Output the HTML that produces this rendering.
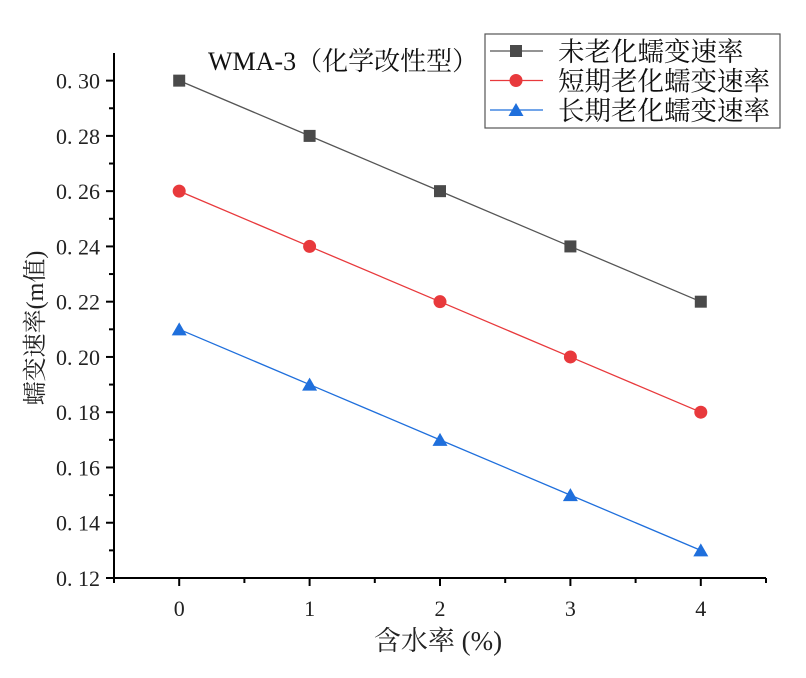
<!DOCTYPE html>
<html><head><meta charset="utf-8"><style>
body{margin:0;background:#fff}
svg text{font-family:"Liberation Serif","Noto Serif CJK SC",serif}
</style></head><body>
<svg id="c" width="806" height="673" xmlns="http://www.w3.org/2000/svg"></svg>
<script>
const categories=[0,1,2,3,4];
const seriesNames=["未老化蠕变速率","短期老化蠕变速率","长期老化蠕变速率"];
const unaged=[0.30,0.28,0.26,0.24,0.22];
const shortAged=[0.26,0.24,0.22,0.20,0.18];
const longAged=[0.21,0.19,0.17,0.15,0.13];
const yTicks=[0.12,0.14,0.16,0.18,0.20,0.22,0.24,0.26,0.28,0.30];
const yTickLabels=["0. 12","0. 14","0. 16","0. 18","0. 20","0. 22","0. 24","0. 26","0. 28","0. 30"];
const xTickLabels=["0","1","2","3","4"];

const NS="http://www.w3.org/2000/svg";
const svg=document.getElementById('c');
const L=114,R=766,T=53,B=578,xmin=-0.5,xmax=4.5,ymin=0.12,ymax=0.31;
const X=v=>L+(v-xmin)/(xmax-xmin)*(R-L);
const Y=v=>B-(v-ymin)/(ymax-ymin)*(B-T);
function mk(tag,attrs,parent){const e=document.createElementNS(NS,tag);for(const k in attrs)e.setAttribute(k,attrs[k]);(parent||svg).appendChild(e);return e;}

const axes=mk('g',{});


mk('line',{x1:L,y1:T,x2:L,y2:B+1,stroke:'#000','stroke-width':2},axes);
mk('line',{x1:L-1,y1:B,x2:R,y2:B,stroke:'#000','stroke-width':2},axes);
yTicks.forEach((v,i)=>{
  mk('line',{x1:L-8,y1:Y(v),x2:L,y2:Y(v),stroke:'#000','stroke-width':2},axes);
  const t=mk('text',{x:L-14,y:Y(v)+8,'text-anchor':'end','font-size':22,fill:'#222'},axes);
  t.textContent=yTickLabels[i];
  
  
  const m=v+0.01;
  if(m<ymax) mk('line',{x1:L-5,y1:Y(m),x2:L,y2:Y(m),stroke:'#000','stroke-width':2},axes);
});
categories.forEach((v,i)=>{
  mk('line',{x1:X(v),y1:B,x2:X(v),y2:B+8,stroke:'#000','stroke-width':2},axes);
  const t=mk('text',{x:X(v),y:B+38,'text-anchor':'middle','font-size':22,fill:'#222'},axes);
  t.textContent=xTickLabels[i];
  
  
});
for(let m=xmin;m<=xmax+0.01;m+=1){mk('line',{x1:X(m),y1:B,x2:X(m),y2:B+5,stroke:'#000','stroke-width':2},axes);}

const xt=mk('text',{x:438,y:650,'text-anchor':'middle','font-size':27,fill:'#222'});
xt.textContent='含水率 (%)';


const yt=mk('text',{x:0,y:0,'text-anchor':'middle','font-size':24,fill:'#222',transform:'translate(43,328) rotate(-90)'});
yt.textContent='蠕变速率(m值)';


const tt=mk('text',{x:208,y:70,'font-size':26,fill:'#111'});
tt.textContent='WMA-3（化学改性型）';



const colors=['#4a4a4a','#e8393c','#1f6fdc'];
const lineColors=['#555','#e8393c','#1f6fdc'];
const data=[unaged,shortAged,longAged];
function marker(k,x,y,g){
  if(k===0) return mk('rect',{x:x-6,y:y-6,width:12,height:12,fill:colors[0]},g);
  if(k===1) return mk('circle',{cx:x,cy:y,r:6.5,fill:colors[1]},g);
  return mk('polygon',{points:`${x},${y-7} ${x-7.5},${y+6} ${x+7.5},${y+6}`,fill:colors[2]},g);
}
data.forEach((s,k)=>{
  const g=mk('g',{});
  
  
  mk('polyline',{points:s.map((v,i)=>X(categories[i])+','+Y(v)).join(' '),fill:'none',stroke:lineColors[k],'stroke-width':1.3},g);
  s.forEach((v,i)=>{const m=marker(k,X(categories[i]),Y(v),g);
    
    });
});

const lg=mk('g',{});


mk('rect',{x:485,y:34,width:295,height:94,fill:'#fff',stroke:'#555','stroke-width':1.2},lg);
seriesNames.forEach((n,k)=>{
  const y=51+k*29.5;
  const e=mk('g',{},lg);
  
  
  mk('line',{x1:490,y1:y,x2:543,y2:y,stroke:lineColors[k],'stroke-width':1.3},e);
  marker(k,516,y,e);
  const t=mk('text',{x:558,y:y+10,'font-size':26.5,fill:'#111'},e);
  t.textContent=n;
});
</script>
</body></html>
